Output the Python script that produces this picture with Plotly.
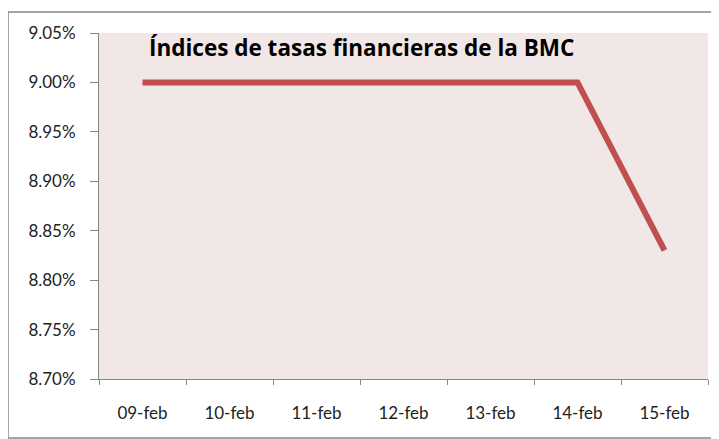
import plotly.graph_objects as go

categories = ["09-feb", "10-feb", "11-feb", "12-feb", "13-feb", "14-feb", "15-feb"]
values = [9.00, 9.00, 9.00, 9.00, 9.00, 9.00, 8.83]
y_ticks = [8.70, 8.75, 8.80, 8.85, 8.90, 8.95, 9.00, 9.05]
y_labels = [f"{v:.2f}%" for v in y_ticks]
title = "Índices de tasas financieras de la BMC"

# page has an 8px body margin, so the figure is drawn 8px smaller
OFF = 8
W, H = 719 - OFF, 439 - OFF
L, R, T, B = 99 - OFF, 11, 33 - OFF, 60
pw, ph = W - L - R, H - T - B

fig = go.Figure()
fig.add_trace(go.Scatter(
    x=categories, y=values, mode="lines",
    line=dict(color="#C0504D", width=6),
    hoverinfo="skip", showlegend=False,
))

axis_font = dict(family="Lato, Carlito, sans-serif", size=17, color="#222222")
fig.update_layout(
    width=W, height=H,
    margin=dict(l=L, r=R, t=T, b=B),
    paper_bgcolor="white",
    plot_bgcolor="#F2E7E7",
    xaxis=dict(
        type="category", range=[-0.5, 6.5], tickson="boundaries",
        ticks="outside", ticklen=5, tickcolor="#868686",
        showline=True, linecolor="#868686", linewidth=1,
        showgrid=False, zeroline=False, tickfont=axis_font,
        ticklabelstandoff=19, automargin=False,
    ),
    yaxis=dict(
        range=[8.70, 9.05], tickvals=y_ticks, ticktext=y_labels,
        ticks="outside", ticklen=8, tickcolor="#868686",
        showline=True, linecolor="#868686", linewidth=1,
        showgrid=False, zeroline=False, tickfont=axis_font,
        ticklabelstandoff=11, automargin=False,
    ),
    annotations=[dict(
        text="<b>" + title + "</b>", xref="paper", yref="paper",
        x=(147 - 99) / pw, y=1 + 3 / ph, xanchor="left", yanchor="top",
        showarrow=False, font=dict(family="Open Sans, sans-serif", size=22.5, color="black"),
    )],
    shapes=[dict(
        type="rect", xref="paper", yref="paper",
        x0=(8 - 99) / pw, x1=(718 - 99) / pw,
        y0=(379 - 438) / ph, y1=(379 - 12) / ph,
        line=dict(color="#888888", width=1.5), fillcolor="rgba(0,0,0,0)", layer="below",
    )],
)

fig.write_html("out.html")
